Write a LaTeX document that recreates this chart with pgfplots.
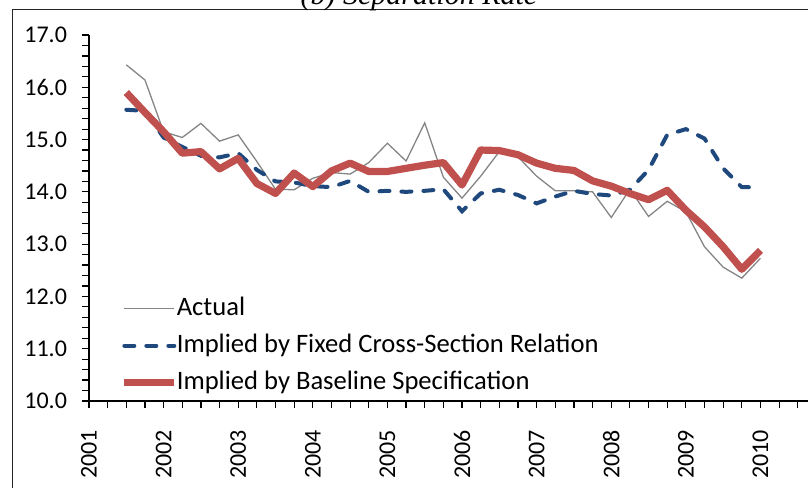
\documentclass[border=0pt]{standalone}
\usepackage{fontspec}
\setmainfont{Carlito}
\newfontfamily\titlefont{Liberation Serif}
\usepackage{pgfplots}
\pgfplotsset{compat=1.18}
\definecolor{actgray}{HTML}{858585}
\definecolor{fixblue}{HTML}{1F497D}
\definecolor{baseRed}{HTML}{C0504D}
\begin{document}
\begin{tikzpicture}
\begin{axis}[
  scale only axis,
  width=363.7pt, height=183pt,
  xmin=0, xmax=39, ymin=10, ymax=17,
  axis lines*=left,
  axis line style={black, line width=0.9pt},
  tick align=outside,
  major tick length=3.5pt, minor tick length=3.5pt,
  tick style={black, line width=0.6pt},
  xtick={0,4,...,36},
  xticklabels={2001,2002,2003,2004,2005,2006,2007,2008,2009,2010},
  minor xtick={0,...,39},
  ytick={10,...,17},
  minor ytick={10.2,10.4,...,16.9},
  /pgf/number format/assume math mode=true,
  yticklabel style={xshift=-4pt, /pgf/number format/.cd, fixed, fixed zerofill, precision=1},
  ticklabel style={font=\fontsize{12}{14}\selectfont},
  xticklabel style={yshift=-7.5pt, rotate=90, anchor=east},
  legend style={draw=none, fill=none, font=\fontsize{13.3}{15}\selectfont,
    at={(axis description cs:0.048,0.29)}, anchor=north west,
    row sep=5pt, inner sep=0pt,
    nodes={inner sep=0.75pt, text height=9.2pt, text depth=2.8pt}},
  legend cell align=left,
  legend image code/.code={\path[draw=none, fill=none, use as bounding box] (0pt,-1pt) rectangle (25.5pt,1pt);
    \draw[#1] (0pt,0pt) -- (25pt,0pt);},
]
\addplot[actgray, line width=0.65pt] coordinates {
(2,16.43) (3,16.14) (4,15.15) (5,15.04) (6,15.31) (7,14.97) (8,15.09) (9,14.58)
(10,14.05) (11,14.04) (12,14.26) (13,14.37) (14,14.34) (15,14.56) (16,14.93)
(17,14.59) (18,15.32) (19,14.28) (20,13.88) (21,14.30) (22,14.77) (23,14.67)
(24,14.30) (25,14.02) (26,14.02) (27,14.00) (28,13.51) (29,14.05) (30,13.53)
(31,13.82) (32,13.62) (33,12.95) (34,12.56) (35,12.35) (36,12.73)};
\addlegendentry{Actual}
\addplot[fixblue, line width=2pt, line cap=round, dash pattern=on 5pt off 6pt] coordinates {
(2,15.57) (3,15.55) (4,15.04) (5,14.86) (6,14.69) (7,14.66) (8,14.74) (9,14.42)
(10,14.20) (11,14.18) (12,14.11) (13,14.09) (14,14.21) (15,14.00) (16,14.02)
(17,14.00) (18,14.02) (19,14.05) (20,13.63) (21,13.97) (22,14.04) (23,13.94)
(24,13.78) (25,13.91) (26,14.02) (27,13.96) (28,13.93) (29,14.04) (30,14.42)
(31,15.09) (32,15.20) (33,15.02) (34,14.45) (35,14.09) (36,14.09)};
\addlegendentry{Implied by Fixed Cross-Section Relation}
\addplot[baseRed, line width=3.6pt, line join=round] coordinates {
(2,15.90) (3,15.52) (4,15.15) (5,14.74) (6,14.77) (7,14.44) (8,14.64) (9,14.16)
(10,13.97) (11,14.36) (12,14.10) (13,14.40) (14,14.55) (15,14.39) (16,14.39)
(17,14.45) (18,14.51) (19,14.56) (20,14.13) (21,14.80) (22,14.79) (23,14.71)
(24,14.55) (25,14.45) (26,14.41) (27,14.21) (28,14.11) (29,13.97) (30,13.85)
(31,14.03) (32,13.65) (33,13.33) (34,12.95) (35,12.52) (36,12.88)};
\addlegendentry{Implied by Baseline Specification}
\end{axis}
\draw[black!85, line width=0.5pt] (-38.15pt,-60pt) -- (-38.15pt,195.5pt) -- (420pt,195.5pt);
\node[font=\titlefont\itshape\fontsize{15}{18}\selectfont, anchor=base] at (165pt,198pt) {(b) Separation Rate};
\pgfresetboundingbox
\useasboundingbox (-44.5pt,-43pt) rectangle (359.5pt,200.5pt);
\end{tikzpicture}
\end{document}
